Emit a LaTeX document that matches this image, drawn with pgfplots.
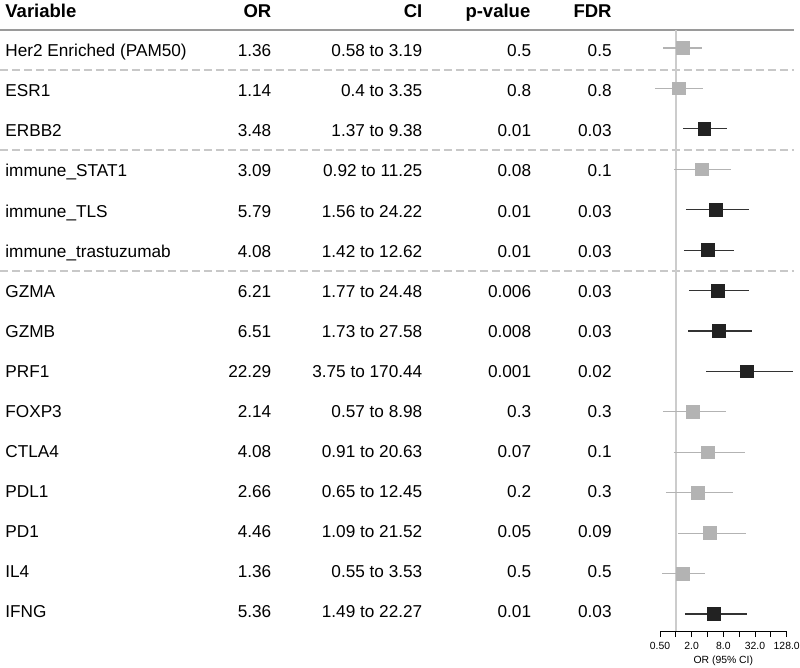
\documentclass[border=0pt]{standalone}
\usepackage{fontspec}
\setmainfont{Liberation Sans}
\usepackage{pgfplots}
\pgfplotsset{compat=1.18}
\definecolor{nsgray}{HTML}{B3B3B3}
\definecolor{nsline}{HTML}{B3B3B3}
\definecolor{sigdark}{HTML}{222222}
\definecolor{sigline}{HTML}{333333}
\definecolor{refline}{HTML}{CCCCCC}
\definecolor{hline}{HTML}{9A9A9A}
\definecolor{dline}{HTML}{C8C8C8}
\newcommand{\rowfont}{\fontsize{8.6}{10}\selectfont}
\newcommand{\hdfont}{\fontsize{9.25}{11}\selectfont\bfseries}
\begin{document}
\begin{tikzpicture}
\useasboundingbox (0pt,0pt) rectangle (400pt,-334pt);
% table rules
\begin{scope}[x=0.5pt,y=-0.5pt]
\draw[hline, line width=1pt] (0,30) -- (794,30);
\foreach \yy in {70,150,271}{
  \draw[dline, line width=0.75pt, dash pattern=on 4pt off 2pt] (0,\yy) -- (794,\yy);
}
% header
\node[anchor=base west, inner sep=0pt] at (5,17.3) {\hdfont Variable};
\node[anchor=base east, inner sep=0pt] at (271.7,17.3) {\hdfont OR};
\node[anchor=base east, inner sep=0pt] at (422.7,17.3) {\hdfont CI};
\node[anchor=base east, inner sep=0pt] at (530.7,17.3) {\hdfont p-value};
\node[anchor=base east, inner sep=0pt] at (612,17.3) {\hdfont FDR};
% rows
\foreach \ri/\vname/\vor/\vci/\vp/\vfdr in {
 1/Her2 Enriched (PAM50)/1.36/0.58 to 3.19/0.5/0.5,
 2/ESR1/1.14/0.4 to 3.35/0.8/0.8,
 3/ERBB2/3.48/1.37 to 9.38/0.01/0.03,
 4/immune\_STAT1/3.09/0.92 to 11.25/0.08/0.1,
 5/immune\_TLS/5.79/1.56 to 24.22/0.01/0.03,
 6/immune\_trastuzumab/4.08/1.42 to 12.62/0.01/0.03,
 7/GZMA/6.21/1.77 to 24.48/0.006/0.03,
 8/GZMB/6.51/1.73 to 27.58/0.008/0.03,
 9/PRF1/22.29/3.75 to 170.44/0.001/0.02,
 10/FOXP3/2.14/0.57 to 8.98/0.3/0.3,
 11/CTLA4/4.08/0.91 to 20.63/0.07/0.1,
 12/PDL1/2.66/0.65 to 12.45/0.2/0.3,
 13/PD1/4.46/1.09 to 21.52/0.05/0.09,
 14/IL4/1.36/0.55 to 3.53/0.5/0.5,
 15/IFNG/5.36/1.49 to 22.27/0.01/0.03}{
  \pgfmathsetmacro{\yb}{56.7+40.09*(\ri-1)}
  \node[anchor=base west, inner sep=0pt] at (5,\yb) {\rowfont \vname};
  \node[anchor=base east, inner sep=0pt] at (271.7,\yb) {\rowfont \vor};
  \node[anchor=base east, inner sep=0pt] at (422.7,\yb) {\rowfont \vci};
  \node[anchor=base east, inner sep=0pt] at (531.5,\yb) {\rowfont \vp};
  \node[anchor=base east, inner sep=0pt] at (612,\yb) {\rowfont \vfdr};
}
\end{scope}
\begin{axis}[
  at={(330pt,-315.5pt)}, anchor=south west,
  scale only axis, width=63.35pt, height=300.5pt,
  xmode=log, log basis x=2, xmin=0.5, xmax=128,
  ymin=0.555, ymax=15.42, y dir=reverse,
  axis y line=none, axis x line*=bottom,
  x axis line style={-, black, line width=0.5pt},
  xtick={0.5,1,2,4,8,16,32,64,128},
  xticklabels={0.50,,2.0,,8.0,,32.0,,128.0},
  tick align=outside, major tick length=3pt,
  xtick style={black, line width=0.5pt},
  xticklabel style={font=\fontsize{5.2}{6}\selectfont, inner sep=0pt, yshift=-2.6pt},
  xlabel={OR (95\% CI)},
  xlabel style={font=\fontsize{5.2}{6}\selectfont, inner sep=0pt, yshift=-3pt},
  clip=false,
  unbounded coords=jump,
]
\addplot[refline, line width=0.75pt] coordinates {(1,0.555) (1,15.42)};
% non-significant CIs
\addplot[nsline, line width=0.6pt] coordinates {
 (0.58,1) (3.19,1) (nan,nan)
 (0.4,2) (3.35,2) (nan,nan)
 (0.92,4) (11.25,4) (nan,nan)
 (0.57,10) (8.98,10) (nan,nan)
 (0.91,11) (20.63,11) (nan,nan)
 (0.65,12) (12.45,12) (nan,nan)
 (1.09,13) (21.52,13) (nan,nan)
 (0.55,14) (3.53,14)};
\addplot[only marks, mark=square*, mark size=3.17pt, mark options={fill=nsgray, draw=nsgray}] coordinates {
 (1.36,1) (1.14,2) (3.09,4) (2.14,10) (4.08,11) (2.66,12) (4.46,13) (1.36,14)};
% significant CIs
\addplot[sigline, line width=0.6pt] coordinates {
 (1.37,3) (9.38,3) (nan,nan)
 (1.56,5) (24.22,5) (nan,nan)
 (1.42,6) (12.62,6) (nan,nan)
 (1.77,7) (24.48,7) (nan,nan)
 (1.73,8) (27.58,8) (nan,nan)
 (3.75,9) (170.44,9) (nan,nan)
 (1.49,15) (22.27,15)};
\addplot[only marks, mark=square*, mark size=3.17pt, mark options={fill=sigdark, draw=sigdark}] coordinates {
 (3.48,3) (5.79,5) (4.08,6) (6.21,7) (6.51,8) (22.29,9) (5.36,15)};
\end{axis}
\end{tikzpicture}
\end{document}
